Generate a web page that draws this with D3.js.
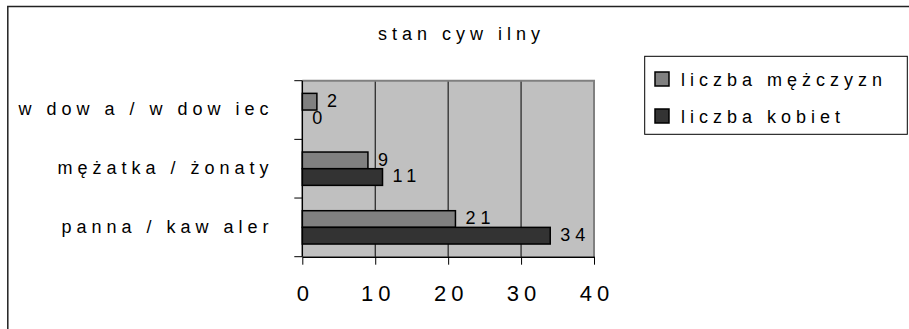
<!DOCTYPE html>
<html>
<head>
<meta charset="utf-8">
<script src="https://cdn.jsdelivr.net/npm/d3@7"></script>
<style>
    body { margin: 0; background: #fff; }
    text { font-family: "Liberation Sans", Arial, sans-serif; fill: #000; }
</style>
</head>
<body>
<svg width="909" height="329"></svg>
<script>
// stan cywilny - grouped horizontal bars

const categories = ["w dow a / w dow iec", "mężatka / żonaty", "panna / kaw aler"];
const series = ["liczba mężczyzn", "liczba kobiet"];
const men = [2, 9, 21];
const women = [0, 11, 34];
const xTicks = [0, 10, 20, 30, 40];
const colors = ["#808080", "#333333"];

const config = {
    left: 302.3,
    right: 594,
    top: 80.7,
    bottom: 256.7,
    spacing: "5px"
};

const data = categories.map((c, i) => ({ cat: c, values: [men[i], women[i]] }));

const svg = d3.select("svg");

// outer frame (cut off at right/bottom)
svg.append("rect")
    .attr("x", 7.8).attr("y", 6.5)
    .attr("width", 1000).attr("height", 1000)
    .attr("fill", "none").attr("stroke", "#222").attr("stroke-width", 1.5);

svg.append("text")
    .attr("x", 459 + 2.5)
    .attr("y", 39.5)
    .attr("text-anchor", "middle")
    .style("font-size", "18px")
    .style("letter-spacing", config.spacing)
    .text("stan cyw ilny");

const x = d3.scaleLinear().domain([0, 40]).range([config.left, config.right]);
const y = d3.scaleBand().domain(categories).range([config.top, config.bottom]).padding(0);
const y1 = d3.scaleBand().domain(series).range([0, y.bandwidth()]).paddingInner(0).paddingOuter(0.76);

// plot background
svg.append("rect")
    .attr("x", x(0)).attr("y", config.top)
    .attr("width", x(40) - x(0)).attr("height", config.bottom - config.top)
    .attr("fill", "#c0c0c0");

// grid
svg.append("g")
    .selectAll("line")
    .data(xTicks.filter(d => d > 0 && d < 40))
    .join("line")
    .attr("x1", d => x(d)).attr("x2", d => x(d))
    .attr("y1", config.top).attr("y2", config.bottom)
    .attr("stroke", "#000").attr("stroke-width", 1);

// plot border top / right
svg.append("path")
    .attr("d", `M${x(0)},${config.top}H${x(40)}V${config.bottom}`)
    .attr("fill", "none").attr("stroke", "#808080").attr("stroke-width", 2);

const g = svg.selectAll("g.cat")
    .data(data)
    .join("g")
    .attr("class", "cat")
    .attr("transform", d => `translate(0, ${y(d.cat)})`);

g.selectAll("rect")
    .data(d => d.values.map((v, i) => ({ key: series[i], v, i })))
    .join("rect")
    .attr("x", x(0))
    .attr("y", d => y1(d.key))
    .attr("width", d => x(d.v) - x(0))
    .attr("height", y1.bandwidth())
    .attr("fill", d => colors[d.i])
    .attr("stroke", "#000")
    .attr("stroke-width", d => d.v > 0 ? 1.5 : 0);

g.selectAll("text.val")
    .data(d => d.values.map((v, i) => ({ key: series[i], v, i })))
    .join("text")
    .attr("class", "val")
    .attr("x", d => x(d.v) + 10)
    .attr("y", d => y1(d.key) + y1.bandwidth() / 2)
    .attr("dy", "0.3em")
    .style("font-size", "18px")
    .style("letter-spacing", config.spacing)
    .text(d => d.v);

// category labels
svg.append("g")
    .selectAll("text")
    .data(categories)
    .join("text")
    .attr("x", 268.5 + 5)
    .attr("y", d => y(d) + y.bandwidth() / 2)
    .attr("dy", "0.3em")
    .attr("text-anchor", "end")
    .style("font-size", "18px")
    .style("letter-spacing", config.spacing)
    .text(d => d);

// y axis with ticks at category edges
const yEdges = categories.map(c => y(c)).concat([y(categories[categories.length - 1]) + y.bandwidth()]);
svg.append("line")
    .attr("x1", x(0)).attr("x2", x(0))
    .attr("y1", config.top).attr("y2", config.bottom)
    .attr("stroke", "#000").attr("stroke-width", 1.5);
svg.append("g")
    .selectAll("line")
    .data(yEdges)
    .join("line")
    .attr("x1", x(0) - 8).attr("x2", x(0))
    .attr("y1", d => d).attr("y2", d => d)
    .attr("stroke", "#000").attr("stroke-width", 1);

// x axis
const xAxis = d3.axisBottom(x).tickValues(xTicks).tickSize(8).tickSizeOuter(0).tickPadding(21);
svg.append("g")
    .attr("class", "x-axis")
    .attr("transform", `translate(0, ${config.bottom})`)
    .call(xAxis)
    .call(a => a.select(".domain").attr("stroke-width", 1.5))
    .call(a => a.selectAll("text")
        .attr("dx", "2.5px")
        .style("font-size", "22px")
        .style("letter-spacing", config.spacing)
        .style("font-family", "\"Liberation Sans\", Arial, sans-serif")
        .attr("fill", "#000"));

// legend
const legend = svg.append("g");
legend.append("rect")
    .attr("x", 644.7).attr("y", 56.3)
    .attr("width", 262.6).attr("height", 78)
    .attr("fill", "#fff").attr("stroke", "#000").attr("stroke-width", 1);

const li = legend.selectAll("g")
    .data(series)
    .join("g")
    .attr("transform", (d, i) => `translate(655, ${72 + i * 37})`);
li.append("rect")
    .attr("width", 14).attr("height", 14)
    .attr("fill", (d, i) => colors[i])
    .attr("stroke", "#000").attr("stroke-width", 1.5);
li.append("text")
    .attr("x", 26)
    .attr("y", 14)
    .style("font-size", "18px")
    .style("letter-spacing", config.spacing)
    .text(d => d);
</script>
</body>
</html>
